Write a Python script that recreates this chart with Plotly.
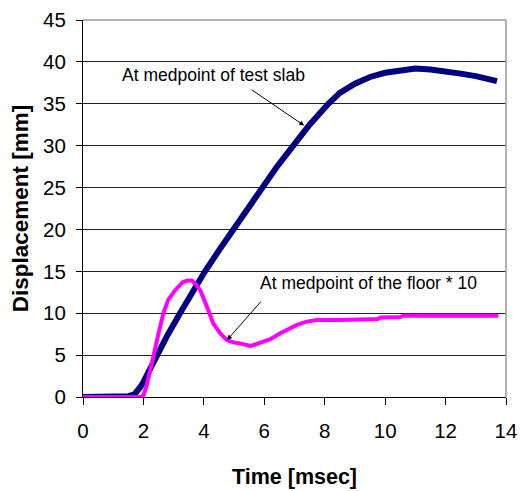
import plotly.graph_objects as go

# Data
slab_t = [0, 0.5, 1.0, 1.5, 1.7, 1.8, 1.9, 2.0, 2.2, 2.44, 2.8, 3.21, 3.6, 4.04, 4.5, 4.97,
          5.45, 5.92, 6.4, 6.96, 7.5, 8.12, 8.5, 9.0, 9.5, 10.0, 10.5, 11.0, 11.5, 12.0,
          12.5, 13.0, 13.4, 13.7]
slab_y = [0, 0, 0, 0.1, 0.3, 0.7, 1.2, 1.8, 3.3, 5.0, 7.4, 10.0, 12.4, 15.0, 17.5, 20.0,
          22.5, 25.0, 27.4, 30.0, 32.5, 35.0, 36.3, 37.4, 38.2, 38.7, 39.0, 39.2, 39.1, 38.9,
          38.6, 38.3, 38.0, 37.7]

floor_t = [0, 1.0, 1.9, 2.0, 2.1, 2.2, 2.33, 2.5, 2.66, 2.82, 3.05, 3.3, 3.45, 3.6, 3.75,
           3.88, 4.1, 4.31, 4.54, 4.76, 5.0, 5.2, 5.55, 5.97, 6.2, 6.53, 7.08, 7.4, 7.74,
           8.5, 9.2, 9.75, 9.85, 10.5, 10.6, 11.5, 12.5, 13.75]
floor_y = [0, 0, 0, 0.2, 1.3, 2.8, 5.0, 7.6, 10.0, 11.6, 12.75, 13.7, 13.9, 13.9, 13.4,
           12.75, 10.8, 8.8, 7.6, 6.8, 6.5, 6.4, 6.1, 6.6, 6.9, 7.6, 8.6, 9.0, 9.2,
           9.2, 9.25, 9.3, 9.5, 9.55, 9.7, 9.7, 9.7, 9.7]

x_ticks = [0, 2, 4, 6, 8, 10, 12, 14]
y_ticks = [0, 5, 10, 15, 20, 25, 30, 35, 40, 45]

label_slab = "At medpoint of test slab"
label_floor = "At medpoint of the floor * 10"

FONT = "Liberation Sans, Arial, sans-serif"

fig = go.Figure()
fig.add_trace(go.Scatter(x=slab_t, y=slab_y, mode="lines",
                         line=dict(color="#000080", width=6), showlegend=False))
fig.add_trace(go.Scatter(x=floor_t, y=floor_y, mode="lines",
                         line=dict(color="#FF00FF", width=4), showlegend=False))

fig.update_layout(
    width=520, height=491,
    margin=dict(l=83, r=14, t=20, b=94),
    paper_bgcolor="white", plot_bgcolor="white",
    font=dict(family=FONT, color="black"),
    xaxis=dict(range=[0, 14], tickvals=x_ticks, showgrid=False, zeroline=False,
               showline=True, linecolor="black", linewidth=1, automargin=False,
               ticks="outside", ticklen=7, tickcolor="black",
               tickfont=dict(size=20.5), ticklabelstandoff=8,
               title=dict(text="<b>Time [msec]</b>", font=dict(size=21.5), standoff=28)),
    yaxis=dict(range=[0, 45], tickvals=y_ticks, showgrid=True, gridcolor="#222222",
               gridwidth=1, zeroline=False, automargin=False,
               showline=True, linecolor="black", linewidth=1,
               ticks="outside", ticklen=6, tickcolor="black",
               tickfont=dict(size=20.5), ticklabelstandoff=6,
               title=dict(text="<b>Displacement [mm]</b>", font=dict(size=22.5), standoff=8)),
    shapes=[
        dict(type="line", xref="paper", yref="paper", x0=0, x1=1, y0=1, y1=1,
             line=dict(color="#999999", width=1.5), layer="above"),
        dict(type="line", xref="paper", yref="paper", x0=1, x1=1, y0=0, y1=1,
             line=dict(color="#999999", width=1.5), layer="above"),
    ],
    annotations=[
        dict(x=4.32, y=38.4, xref="x", yref="y", text=label_slab, showarrow=False,
             font=dict(size=17.5, family=FONT)),
        dict(x=7.32, y=32.4, xref="x", yref="y", ax=5.53, ay=36.8, axref="x", ayref="y",
             text="", showarrow=True, arrowhead=2, arrowsize=1, arrowwidth=1,
             arrowcolor="black"),
        dict(x=9.46, y=13.6, xref="x", yref="y", text=label_floor, showarrow=False,
             font=dict(size=17.5, family=FONT)),
        dict(x=4.77, y=6.8, xref="x", yref="y", ax=5.93, ay=11.56, axref="x", ayref="y",
             text="", showarrow=True, arrowhead=2, arrowsize=1, arrowwidth=1,
             arrowcolor="black"),
    ],
)

fig.write_html("out.html")
